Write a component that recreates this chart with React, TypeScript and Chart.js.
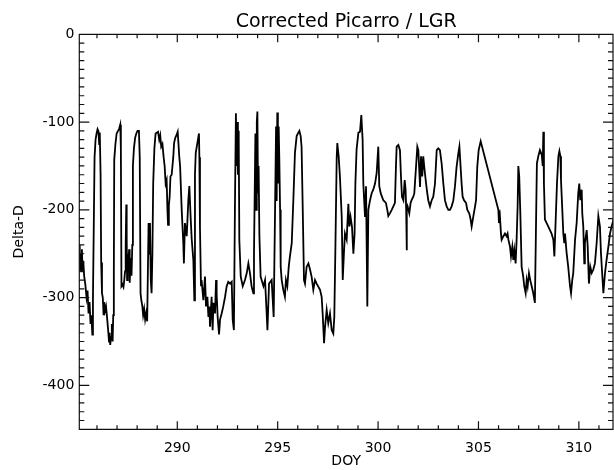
import React, { useEffect, useRef } from 'react';
import { Chart, registerables } from 'chart.js';

Chart.register(...registerables);

const titleText = 'Corrected Picarro / LGR';
const xTitle = 'DOY';
const yTitle = 'Delta-D';

const xMin = 285.12;
const xMax = 311.7;
const yMin = -450;
const yMax = 0;

const xTickLabels = [290, 295, 300, 305, 310];
const yTickLabels = [0, -100, -200, -300, -400];

const doy = [
  285.12, 285.14, 285.16, 285.19, 285.22, 285.25, 285.28, 285.32, 285.36, 285.42,
  285.48, 285.53, 285.58, 285.63, 285.68, 285.72, 285.77, 285.80, 285.84, 285.88,
  285.93, 285.98, 286.03, 286.07, 286.11, 286.14, 286.18, 286.21, 286.25,
  286.29, 286.33, 286.36, 286.40, 286.45, 286.50, 286.55, 286.60, 286.63, 286.66,
  286.70, 286.74, 286.78, 286.81, 286.84, 286.86, 286.92, 286.98, 287.05, 287.10,
  287.16, 287.19, 287.22,
  287.27, 287.32, 287.36, 287.40, 287.43, 287.46, 287.48, 287.50, 287.53, 287.56,
  287.60, 287.63, 287.68, 287.72, 287.76, 287.79, 287.84, 287.90, 287.96, 288.02,
  288.09, 288.13, 288.17, 288.21, 288.26, 288.30, 288.35, 288.40, 288.45, 288.50,
  288.54, 288.57, 288.60, 288.64, 288.68, 288.72, 288.76, 288.80, 288.86, 288.92,
  288.98, 289.04, 289.10, 289.15, 289.20, 289.26, 289.32, 289.37, 289.42, 289.47,
  289.51, 289.54, 289.58, 289.62, 289.66, 289.72, 289.76, 289.80, 289.84, 289.90,
  289.96, 290.02, 290.06, 290.10,
  290.14, 290.22, 290.30, 290.33, 290.38, 290.47, 290.55, 290.60, 290.67, 290.72,
  290.80, 290.85, 290.88, 290.92, 291.00, 291.08, 291.10, 291.13, 291.18, 291.21,
  291.30, 291.38, 291.43, 291.50, 291.55, 291.60, 291.63, 291.71, 291.76, 291.80,
  291.88, 291.93, 291.96, 292.01, 292.08, 292.13, 292.21, 292.29, 292.38, 292.46,
  292.54, 292.63, 292.71, 292.76, 292.82, 292.87, 292.92, 292.95, 292.99, 293.02,
  293.04, 293.06, 293.09, 293.16, 293.26, 293.37, 293.46, 293.54, 293.62, 293.70,
  293.79, 293.82, 293.89, 293.93, 293.96, 293.99, 294.02, 294.05, 294.09, 294.15,
  294.29, 294.37, 294.42, 294.49, 294.57, 294.70, 294.80, 294.87, 294.92, 294.95,
  294.98, 295.01, 295.05, 295.08, 295.12, 295.15,
  295.20, 295.28, 295.36, 295.41, 295.48, 295.55, 295.61, 295.70, 295.78, 295.86,
  295.945, 296.03, 296.08, 296.145, 296.19, 296.24, 296.31, 296.36, 296.44, 296.53,
  296.61, 296.69, 296.775, 296.86, 296.94, 297.11, 297.19, 297.24, 297.31, 297.36,
  297.44, 297.52, 297.605, 297.69, 297.77, 297.82, 297.87, 297.94, 297.97, 298.04,
  298.10, 298.19, 298.24, 298.30, 298.35, 298.435, 298.52, 298.57, 298.63, 298.70,
  298.77, 298.83, 298.87, 298.93, 299.02, 299.10, 299.165, 299.23, 299.265, 299.35,
  299.40, 299.465, 299.515, 299.60, 299.68, 299.76, 299.85, 299.93, 300.01, 300.06,
  300.13, 300.26, 300.39, 300.46, 300.51,
  300.59, 300.68, 300.76, 300.84, 300.89, 300.925, 301.01, 301.09, 301.14, 301.19,
  301.26, 301.325, 301.37, 301.40, 301.42, 301.44, 301.47, 301.555, 301.62, 301.67,
  301.755, 301.805, 301.89, 301.955, 302.005, 302.09, 302.14, 302.20, 302.25, 302.30,
  302.39, 302.45, 302.50, 302.585, 302.67, 302.75, 302.835, 302.92, 303.00, 303.08,
  303.165, 303.25, 303.33, 303.415, 303.50, 303.58, 303.665, 303.75, 303.83, 303.91,
  304.00, 304.05, 304.11, 304.16, 304.21, 304.28, 304.38, 304.445, 304.54, 304.61,
  304.66, 304.74, 304.83, 304.88, 304.94, 305.01, 305.11,
  305.99, 306.02, 306.07, 306.12, 306.155, 306.24, 306.32, 306.40, 306.45, 306.49,
  306.57, 306.62, 306.685, 306.735, 306.785, 306.85, 306.90, 306.95, 306.985, 307.03,
  307.08, 307.15, 307.23, 307.28, 307.35, 307.40, 307.45, 307.515, 307.58, 307.65,
  307.73, 307.81, 307.86, 307.91, 307.98, 308.06, 308.15, 308.20, 308.23, 308.26,
  308.31, 308.395, 308.48, 308.56, 308.64, 308.73, 308.78, 308.84, 308.91, 308.98,
  309.03, 309.08, 309.11, 309.175, 309.225, 309.275, 309.31, 309.39, 309.47, 309.56,
  309.61, 309.67, 309.72, 309.81, 309.89, 309.97, 310.02, 310.07, 310.14, 310.17,
  310.22, 310.27, 310.30, 310.39, 310.44, 310.50, 310.57, 310.64, 310.72, 310.80,
  310.885, 310.97, 311.05, 311.10, 311.17, 311.22, 311.30, 311.38, 311.47, 311.55,
  311.63, 311.75,
];

const deltaD = [
  -262, -240, -268, -250, -270, -245, -268, -258, -275, -285,
  -300, -292, -318, -305, -330, -320, -342, -300, -220, -140,
  -120, -113, -108, -110, -125, -112, -160, -260, -295,
  -300, -320, -305, -315, -310, -322, -335, -350, -340, -354,
  -345, -330, -350, -320, -272, -143, -125, -113, -110, -108,
  -103, -130, -287,
  -285, -288, -280, -270, -240, -194, -230, -280, -250, -270,
  -245, -283, -255, -275, -240, -150, -130, -118, -113, -110,
  -110, -140, -295, -303, -310, -320, -313, -325, -318, -327,
  -327, -215, -250, -215, -280, -295, -250, -170, -130, -113,
  -112, -111, -120, -115, -128, -125, -140, -150, -170, -166,
  -200, -217, -195, -185, -162, -160, -150, -140, -124, -118,
  -115, -111, -125, -140,
  -150, -200, -238, -261, -215, -230, -189, -173, -211, -234,
  -257, -303, -160, -135, -124, -113, -140, -220, -287, -280,
  -303, -276, -310, -299, -322, -310, -333, -299, -337, -306,
  -318, -280, -295, -322, -342, -325, -318, -310, -299, -287,
  -282, -284, -282, -325, -337, -200, -90, -150, -100, -160,
  -110, -118, -234, -276, -287, -280, -272, -261, -272, -287,
  -295, -250, -113, -200, -100, -88, -180, -150, -230, -276,
  -287, -280, -303, -337, -284, -280, -322, -200, -105, -190,
  -89, -170, -105, -140, -200, -265,
  -280, -291, -299, -280, -287, -265, -253, -238, -189, -135,
  -116, -112, -110, -116, -128, -189, -280, -284, -265, -261,
  -268, -276, -291, -280, -284, -291, -299, -318, -352, -333,
  -314, -329, -318, -337, -341, -322, -250, -140, -124, -140,
  -162, -208, -280, -249, -227, -234, -193, -219, -208, -219,
  -250, -227, -170, -131, -112, -111, -92, -120, -170, -208,
  -173, -310, -200, -189, -181, -177, -170, -158, -128, -173,
  -181, -189, -192, -200, -207,
  -204, -200, -196, -192, -151, -128, -126, -132, -162, -185,
  -189, -166, -177, -200, -246, -200, -196, -204, -192, -189,
  -185, -181, -151, -128, -132, -174, -139, -162, -139, -151,
  -170, -181, -189, -196, -189, -185, -170, -132, -130, -132,
  -147, -170, -189, -196, -200, -200, -196, -189, -173, -151,
  -135, -128, -151, -170, -185, -189, -192, -200, -204, -211,
  -219, -208, -196, -189, -151, -132, -122,
  -200, -215, -208, -227, -234, -230, -227, -230, -227, -234,
  -242, -253, -242, -257, -246, -261, -234, -196, -150, -162,
  -200, -265, -276, -287, -295, -280, -287, -272, -280, -287,
  -295, -306, -227, -147, -139, -132, -137, -150, -111, -170,
  -211, -215, -219, -223, -227, -234, -253, -215, -170, -139,
  -133, -139, -166, -200, -227, -238, -227, -249, -265, -287,
  -295, -280, -272, -234, -215, -181, -170, -189, -177, -204,
  -219, -261, -238, -223, -242, -284, -265, -272, -268, -261,
  -238, -207, -219, -249, -276, -295, -272, -257, -242, -227,
  -219, -209,
];

const FONT = 'DejaVu Sans';

const frameTicks = {
  id: 'frameTicks',
  afterDraw(chart: any) {
    const { ctx, chartArea } = chart;
    const { left, right, top, bottom } = chartArea;
    const x = chart.scales.x;
    const y = chart.scales.y;
    ctx.save();
    ctx.strokeStyle = '#111';
    ctx.lineWidth = 1.2;
    ctx.beginPath();
    ctx.rect(left, top, right - left, bottom - top);
    for (let v = Math.ceil(x.min); v <= x.max; v += 1) {
      const px = x.getPixelForValue(v);
      const len = v % 5 === 0 ? 8 : 4;
      ctx.moveTo(px, bottom);
      ctx.lineTo(px, bottom - len);
      ctx.moveTo(px, top);
      ctx.lineTo(px, top + len);
    }
    for (let v = Math.ceil(y.min / 10) * 10; v <= y.max; v += 10) {
      const py = y.getPixelForValue(v);
      const len = v % 100 === 0 ? 10 : 5;
      ctx.moveTo(left, py);
      ctx.lineTo(left + len, py);
      ctx.moveTo(right, py);
      ctx.lineTo(right - len, py);
    }
    ctx.stroke();
    ctx.restore();
  },
};

export default function App() {
  const canvasRef = useRef<HTMLCanvasElement | null>(null);

  useEffect(() => {
    if (!canvasRef.current) return;
    const points = doy.map((d, i) => ({ x: d, y: deltaD[i] }));
    const chart = new Chart(canvasRef.current, {
      type: 'line',
      data: {
        datasets: [
          {
            data: points,
            borderColor: '#000',
            borderWidth: 1.8,
            pointRadius: 0,
            tension: 0,
            fill: false,
          },
        ],
      },
      options: {
        animation: false,
        responsive: false,
        maintainAspectRatio: false,
        layout: { padding: { left: 0, right: 1, top: 0, bottom: 0 } },
        plugins: {
          legend: { display: false },
          tooltip: { enabled: false },
          title: {
            display: true,
            text: titleText,
            fullSize: false,
            color: '#000',
            font: { family: FONT, size: 19, weight: 'normal' },
            padding: { top: 10.5, bottom: 1 },
          },
        },
        scales: {
          x: {
            type: 'linear',
            min: xMin,
            max: xMax,
            grid: { display: false, drawTicks: true, tickLength: 11 },
            border: { display: false },
            ticks: {
              stepSize: 1,
              autoSkip: false,
              maxRotation: 0,
              padding: 0,
              color: '#000',
              font: { family: FONT, size: 14 },
              callback: (v: any) => (xTickLabels.includes(Number(v)) ? String(v) : ''),
            },
            title: {
              display: true,
              text: xTitle,
              color: '#000',
              font: { family: FONT, size: 14 },
              padding: { top: 0, bottom: 0 },
            },
            afterFit: (s: any) => {
              s.height = 40.7;
            },
          },
          y: {
            type: 'linear',
            min: yMin,
            max: yMax,
            grid: { display: false, drawTicks: false },
            border: { display: false },
            ticks: {
              stepSize: 50,
              autoSkip: false,
              padding: 5,
              color: '#000',
              font: { family: FONT, size: 14 },
              callback: (v: any) => (yTickLabels.includes(Number(v)) ? String(v) : ''),
            },
            title: {
              display: true,
              text: yTitle,
              color: '#000',
              font: { family: FONT, size: 14 },
              padding: { top: 11, bottom: 0 },
            },
            afterFit: (s: any) => {
              s.width = 79.3;
            },
          },
        },
      },
      plugins: [frameTicks],
    });
    return () => chart.destroy();
  }, []);

  return (
    <div style={{ position: 'absolute', left: 0, top: 0, width: 614, height: 470, background: '#fff' }}>
      <canvas ref={canvasRef} width={614} height={470} />
    </div>
  );
}
